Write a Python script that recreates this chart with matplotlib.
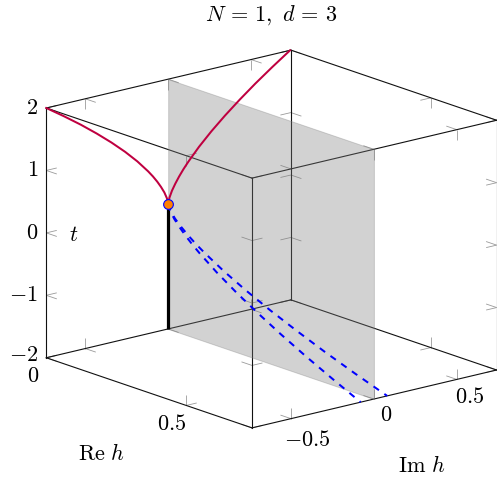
import numpy as np
import matplotlib
matplotlib.use("Agg")
import matplotlib.pyplot as plt
from mpl_toolkits.mplot3d import proj3d
from mpl_toolkits.mplot3d.art3d import Poly3DCollection

W, H = 497, 482
plt.rcParams["mathtext.fontset"] = "cm"
plt.rcParams["lines.scale_dashes"] = False

re_lim = [0, 0.735]
im_lim = [-0.735, 0.74]
t_lim = [-2, 2]
re_ticks = [0, 0.5]
im_ticks = [-0.5, 0, 0.5]
t_ticks = [-2, -1, 0, 1, 2]

# real branch edge: black segment
edge_t = [-2, 0]
# purely imaginary branches for t > 0
red_t = [0, 0.1, 0.2, 0.3, 0.4, 0.5, 0.6, 0.8, 1.0, 1.2, 1.4, 1.6, 1.8, 2.0]
red_im = [0, 0.008, 0.023, 0.043, 0.066, 0.092, 0.121, 0.186, 0.26, 0.342, 0.431, 0.526, 0.628, 0.735]
# complex conjugate branches for t < 0
blue_t = [0, -0.1, -0.2, -0.3, -0.4, -0.5, -0.6, -0.8, -1.0, -1.2, -1.4, -1.6, -1.8, -2.0]
blue_re = [0, 0.008, 0.023, 0.043, 0.066, 0.092, 0.121, 0.186, 0.26, 0.342, 0.431, 0.526, 0.628, 0.735]
blue_im = [0, 0.001, 0.0025, 0.0047, 0.0072, 0.01, 0.0132, 0.0203, 0.0283, 0.037, 0.047, 0.057, 0.068, 0.08]

RED = "#bf0040"
FS = 16.0

fig = plt.figure(figsize=(W / 100, H / 100), dpi=100)
ax = fig.add_axes([0, 0, 1, 1], projection="3d", proj_type="ortho", computed_zorder=False)
ax.set_xlim(*re_lim)
ax.set_ylim(*im_lim)
ax.set_zlim(*t_lim)
ax.set_box_aspect((322, 319, 261))
ax.view_init(elev=16.5, azim=-39.8)
ax.set_axis_off()

x0, x1 = re_lim
y0, y1 = im_lim
z0, z1 = t_lim
dx, dy, dz = 0.0375, 0.063, 0.168   # tick stroke lengths in data units

tick_kw = dict(color="#9a9a9a", lw=0.6, zorder=1, solid_capstyle="butt")
box_kw = dict(color="#111111", lw=0.8, zorder=2, solid_capstyle="projecting")


def stroke(p, q, **kw):
    ax.plot([p[0], q[0]], [p[1], q[1]], [p[2], q[2]], **kw)


for yy in (y0, y1):
    for zz in (z0, z1):
        sy = 1 if yy == y0 else -1
        sz = 1 if zz == z0 else -1
        for v in re_ticks:
            stroke((v, yy, zz), (v, yy + sy * dy, zz), **tick_kw)
            stroke((v, yy, zz), (v, yy, zz + sz * dz), **tick_kw)
for xx in (x0, x1):
    for zz in (z0, z1):
        sx = 1 if xx == x0 else -1
        sz = 1 if zz == z0 else -1
        for v in im_ticks:
            stroke((xx, v, zz), (xx + sx * dx, v, zz), **tick_kw)
            stroke((xx, v, zz), (xx, v, zz + sz * dz), **tick_kw)
for xx in (x0, x1):
    for yy in (y0, y1):
        sx = 1 if xx == x0 else -1
        sy = 1 if yy == y0 else -1
        for v in t_ticks:
            stroke((xx, yy, v), (xx + sx * dx, yy, v), **tick_kw)
            stroke((xx, yy, v), (xx, yy + sy * dy, v), **tick_kw)

for yy in (y0, y1):
    for zz in (z0, z1):
        stroke((x0, yy, zz), (x1, yy, zz), **box_kw)
for xx in (x0, x1):
    for zz in (z0, z1):
        stroke((xx, y0, zz), (xx, y1, zz), **box_kw)
    for yy in (y0, y1):
        stroke((xx, yy, z0), (xx, yy, z1), **box_kw)

plane = Poly3DCollection(
    [[(x0, 0, z0), (x1, 0, z0), (x1, 0, z1), (x0, 0, z1)]],
    facecolors=[(0.5, 0.5, 0.5, 0.35)],
    edgecolors=[(0.5, 0.5, 0.5, 0.35)],
    linewidths=0.68,
    zorder=3,
)
ax.add_collection3d(plane)

ax.plot([0, 0], [0, 0], edge_t, color="black", lw=2.3, zorder=4, solid_capstyle="butt")
red_t_a = np.array(red_t)
red_im_a = np.array(red_im)
ax.plot(np.zeros_like(red_im_a), red_im_a, red_t_a, color=RED, lw=1.45, zorder=5)
ax.plot(np.zeros_like(red_im_a), -red_im_a, red_t_a, color=RED, lw=1.45, zorder=5)
blue_im_a = np.array(blue_im)
for sign in (1, -1):
    ax.plot(blue_re, sign * blue_im_a, blue_t, color="blue", lw=1.45, zorder=6,
            linestyle=(0, (4.75, 4.75)), dash_capstyle="butt")
ax.plot([0], [0], [0], marker="o", ms=7.0, mfc="#ff8000", mec="blue", mew=0.8,
        linestyle="none", zorder=7)

# fit the projected box onto its place in the figure
fig.canvas.draw()
cx, cy, cz = np.meshgrid([x0, x1], [y0, y1], [z0, z1])
px, py, _ = proj3d.proj_transform(cx.ravel(), cy.ravel(), cz.ravel(), ax.get_proj())
disp = ax.transData.transform(np.column_stack([px, py]))
scale = (496.6 - 46.3) / (disp[:, 0].max() - disp[:, 0].min())
pos = ax.get_position()
ccx, ccy = (pos.x0 + pos.width / 2) * W, (pos.y0 + pos.height / 2) * H
ux = (disp[:, 0].min() + disp[:, 0].max()) / 2 - ccx
uy = (disp[:, 1].min() + disp[:, 1].max()) / 2 - ccy
L = pos.width * W * scale
new_cx = (46.3 + 496.6) / 2 - ux * scale
new_cy = (H - (50 + 428) / 2) - uy * scale
ax.set_position([(new_cx - L / 2) / W, (new_cy - L / 2) / H, L / W, L / H])


def label(px_x, px_y, s, ha="center"):
    fig.text(px_x / W, 1 - px_y / H, s, fontsize=FS, ha=ha, va="center", color="black")


label(271, 15, r"$N\,=\,1,\ d\,=\,3$")
for v, yy in zip(t_ticks, [355, 295, 233, 170, 108]):
    label(38, yy, rf"${v}$", ha="right")
label(33, 376, r"$0$")
label(172, 424, r"$0.5$")
label(101, 454, r"$\mathrm{Re}\ h$")
label(74, 235, r"$t$")
label(307, 440, r"$-0.5$")
label(386, 415, r"$0$")
label(470, 397, r"$0.5$")
label(422, 466, r"$\mathrm{Im}\ h$")

fig.savefig("out.png", dpi=100)
